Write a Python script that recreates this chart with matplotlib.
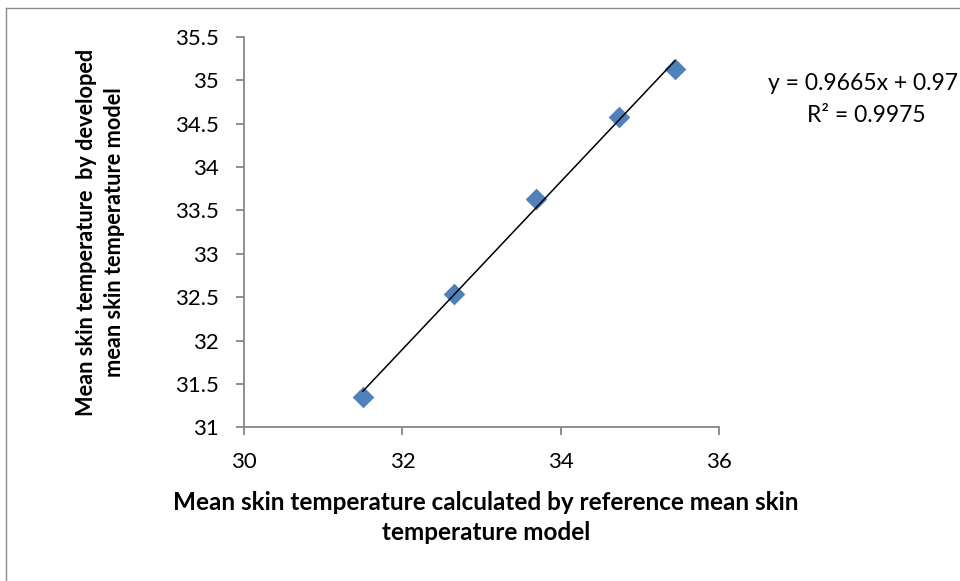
import numpy as np
import matplotlib
matplotlib.use('Agg')
import matplotlib.pyplot as plt
from matplotlib.lines import Line2D

plt.rcParams['font.family'] = ['Lato', 'DejaVu Sans']

# mean skin temperature: reference model (x) vs developed model (y)
x_ref = [31.50, 32.65, 33.68, 34.73, 35.44]
y_dev = [31.35, 32.54, 33.63, 34.58, 35.13]

# linear trendline as reported on the chart
slope = 0.9665
intercept = 0.97
r2 = 0.9975

x_ticks = [30, 32, 34, 36]
y_ticks = [31, 31.5, 32, 32.5, 33, 33.5, 34, 34.5, 35, 35.5]

fig = plt.figure(figsize=(9.6, 5.81), dpi=100)
ax = fig.add_axes([244 / 960, 1 - 427.3 / 581, (719.3 - 244) / 960, (427.3 - 36.7) / 581])

ax.scatter(x_ref, y_dev, marker='D', s=11 ** 2, color='#4F81BD', zorder=2, linewidths=0)

xl = np.array([min(x_ref), max(x_ref)])
ax.plot(xl, slope * xl + intercept, color='black', lw=1.1, zorder=3)

ax.set_xlim(30, 36)
ax.set_ylim(31, 35.5)
ax.set_xticks(x_ticks)
ax.set_yticks(y_ticks)
ax.set_xticklabels([str(t) for t in x_ticks])
ax.set_yticklabels(['%g' % t for t in y_ticks])

for s in ['top', 'right']:
    ax.spines[s].set_visible(False)
for s in ['left', 'bottom']:
    ax.spines[s].set_color('#868686')
    ax.spines[s].set_linewidth(1.3)
ax.tick_params(direction='out', length=6, width=1.3, color='#868686',
               labelsize=16, labelcolor='black')
ax.tick_params(axis='x', pad=12)
ax.tick_params(axis='y', pad=12)

# axis titles
fig.text(486 / 960, 1 - 503 / 581, 'Mean skin temperature calculated by reference mean skin',
         ha='center', va='center', fontsize=17.5, fontweight='bold')
fig.text(486 / 960, 1 - 533 / 581, 'temperature model',
         ha='center', va='center', fontsize=17.5, fontweight='bold')
fig.text(87 / 960, 1 - 232 / 581, 'Mean skin temperature  by developed',
         ha='center', va='center', rotation=90, fontsize=15.7, fontweight='bold')
fig.text(115 / 960, 1 - 232 / 581, 'mean skin temperature model',
         ha='center', va='center', rotation=90, fontsize=15.7, fontweight='bold')

# trendline equation
fig.text(768 / 960, 1 - 84 / 581, 'y = %.4fx + %.2f' % (slope, intercept),
         ha='left', va='center', fontsize=16.5)
fig.text(866 / 960, 1 - 115 / 581, 'R² = %.4f' % r2,
         ha='center', va='center', fontsize=16.5)

# chart area border (left and top edges)
fig.add_artist(Line2D([5.5 / 960, 5.5 / 960], [0, 1 - 7.5 / 581], transform=fig.transFigure,
                      color='#8c8c8c', lw=1))
fig.add_artist(Line2D([5.5 / 960, 1], [1 - 7.5 / 581, 1 - 7.5 / 581], transform=fig.transFigure,
                      color='#8c8c8c', lw=1))

fig.savefig('out.png', dpi=100)
